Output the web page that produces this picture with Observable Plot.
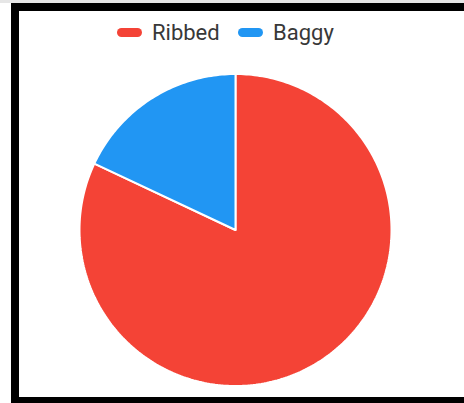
<!DOCTYPE html>
<html>
<head>
<meta charset="utf-8">
<script src="https://cdn.jsdelivr.net/npm/d3@7"></script>
<script src="https://cdn.jsdelivr.net/npm/@observablehq/plot@0.6"></script>
<style>
  html, body { margin: 0; padding: 0; width: 464px; height: 403px; overflow: hidden; background: #fff; }
  #topline { position: absolute; left: 0; top: 0; width: 464px; height: 3px; background: #e6e6e6; }
  #frame { position: absolute; left: 11px; top: 3px; width: 480px; height: 386px;
           border-left: 8px solid #000; border-top: 8px solid #000; border-bottom: 6px solid #000; background: #fff; }
  #legend { position: absolute; top: 19px; left: 0; width: 464px; height: 26px; font-family: Roboto, sans-serif; font-size: 22px; color: #383838; }
  .item { position: absolute; top: 0; height: 26px; display: flex; align-items: center; white-space: nowrap; }
  .pill { width: 25px; height: 9px; border-radius: 5px; margin-right: 10px; }
  #chart { position: absolute; left: 0; top: 60px; }
</style>
</head>
<body>
<div id="topline"></div>
<div id="frame"></div>
<div id="legend"></div>
<div id="chart"></div>
<script>
const categories = ["Ribbed", "Baggy"];
const values = [82, 18];
const colors = ["#F44336", "#2196F3"];

// legend (HTML, built from the arrays)
const legend = document.getElementById("legend");
const legendX = [117, 238];
categories.forEach((c, i) => {
  const it = document.createElement("div");
  it.className = "item";
  it.style.left = legendX[i] + "px";
  const p = document.createElement("div");
  p.className = "pill";
  p.style.background = colors[i];
  it.appendChild(p);
  const t = document.createElement("span");
  t.textContent = c;
  it.appendChild(t);
  legend.appendChild(it);
});

// pie slices as closed polygons in unit-circle data coordinates
const total = d3.sum(values);
const rows = [];
let start = 0;
values.forEach((v, i) => {
  const end = start + v / total * 2 * Math.PI;
  rows.push({cat: categories[i], x: 0, y: 0});
  const n = Math.max(2, Math.ceil((end - start) / (Math.PI / 180)));
  for (let k = 0; k <= n; k++) {
    const a = start + (end - start) * k / n;
    rows.push({cat: categories[i], x: Math.sin(a), y: Math.cos(a)});
  }
  rows.push({cat: categories[i], x: 0, y: 0});
  start = end;
});

const W = 464, H = 340, cx = 235, cy = 169.5, R = 156;
const chart = Plot.plot({
  width: W,
  height: H,
  margin: 0,
  x: {domain: [-1, 1], range: [cx - R, cx + R], axis: null},
  y: {domain: [-1, 1], range: [cy + R, cy - R], axis: null},
  color: {domain: categories, range: colors},
  style: {background: "transparent"},
  marks: [
    Plot.line(rows, {x: "x", y: "y", z: "cat", fill: "cat", stroke: "#fff", strokeWidth: 2, strokeLinejoin: "miter", curve: "linear"})
  ]
});
document.getElementById("chart").appendChild(chart);
</script>
</body>
</html>
